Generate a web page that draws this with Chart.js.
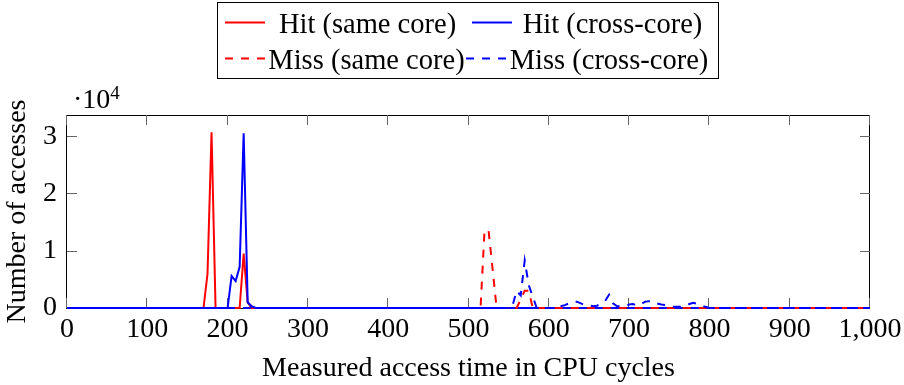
<!DOCTYPE html>
<html>
<head>
<meta charset="utf-8">
<script src="https://cdn.jsdelivr.net/npm/chart.js@4/dist/chart.umd.min.js"></script>
<style>
  html, body { margin: 0; padding: 0; background: #fff; }
  #wrap { position: relative; width: 904px; height: 385px; }
  #c { position: absolute; left: 0; top: 0; }
  #ov { position: absolute; left: 0; top: 0; pointer-events: none; }
  #ov text { font-family: "Liberation Serif", serif; fill: #000; }
</style>
</head>
<body>
<div id="wrap">
  <canvas id="c" width="904" height="385"></canvas>
  <svg id="ov" width="904" height="385">
    <rect x="217.5" y="2.5" width="501" height="76" fill="#fff" stroke="#000" stroke-width="1"/>
    <line x1="225" y1="22.5" x2="265" y2="22.5" stroke="#ff0000" stroke-width="2"/>
    <text x="367.5" y="33" font-size="28.5" text-anchor="middle">Hit (same core)</text>
    <line x1="472" y1="22.5" x2="512" y2="22.5" stroke="#0000ff" stroke-width="2"/>
    <text x="612.5" y="33" font-size="28.5" text-anchor="middle">Hit (cross-core)</text>
    <line x1="225" y1="58.5" x2="265" y2="58.5" stroke="#ff0000" stroke-width="2" stroke-dasharray="8 8"/>
    <text x="366.5" y="69" font-size="28.5" text-anchor="middle">Miss (same core)</text>
    <line x1="466" y1="58.5" x2="506" y2="58.5" stroke="#0000ff" stroke-width="2" stroke-dasharray="8 8"/>
    <text x="609" y="69" font-size="28.5" text-anchor="middle">Miss (cross-core)</text>
    <text x="73" y="108" font-size="28">·10<tspan dy="-9" font-size="19">4</tspan></text>
  </svg>
</div>
<script>
// ---- data ----
const hitSameX  = [0, 170, 175, 180, 185, 215, 220, 225, 230, 1000];
const hitSameY  = [0, 0, 6000, 30700, 0, 0, 9500, 1000, 0, 0];

const hitCrossX = [0, 200, 205, 210, 215, 220, 225, 230, 235, 1000];
const hitCrossY = [0, 0, 5600, 4700, 7200, 30500, 1000, 300, 0, 0];

const missSameX = [0, 515, 520, 525, 530, 535, 560, 565, 570, 575, 580, 935, 940, 945, 1000];
const missSameY = [0, 0, 13600, 13500, 6800, 0, 0, 1500, 3000, 3000, 0, 0, 300, 0, 0];

const missCrossX = [0, 550, 555, 560, 565, 570, 575, 580, 585, 610, 615, 620, 625, 630, 635, 640, 645, 650, 655, 660, 665, 670, 675, 680, 685, 690, 695, 700, 705, 710, 715, 720, 725, 730, 735, 740, 745, 750, 755, 760, 765, 770, 775, 780, 785, 790, 795, 800, 1000];
const missCrossY = [0, 0, 500, 3000, 2200, 8300, 4000, 2000, 0, 0, 300, 500, 800, 1100, 1100, 800, 500, 500, 300, 400, 700, 1200, 2300, 800, 300, 300, 300, 600, 700, 400, 700, 1100, 1200, 1200, 800, 600, 500, 300, 200, 200, 200, 300, 700, 900, 700, 300, 200, 0, 0];

const xTicks = [0, 100, 200, 300, 400, 500, 600, 700, 800, 900, 1000];
const xTickLabels = ['0', '100', '200', '300', '400', '500', '600', '700', '800', '900', '1,000'];
const yTicks = [0, 10000, 20000, 30000];
const yTickLabels = ['0', '1', '2', '3'];

const pts = (xs, ys) => xs.map((x, i) => ({ x: x, y: ys[i] }));

const FONT = { family: '"Liberation Serif", serif', size: 28 };

const framePlugin = {
  id: 'frame',
  beforeDatasetsDraw(chart) {
    const { ctx, chartArea: a, scales } = chart;
    const sx = scales.x, sy = scales.y;
    ctx.save();
    ctx.strokeStyle = '#000';
    ctx.lineWidth = 1;
    ctx.strokeRect(a.left - 0.5, a.top + 0.5, a.right - a.left, a.bottom - a.top);
    ctx.strokeStyle = '#666';
    const L = 10;
    ctx.beginPath();
    xTicks.forEach(v => {
      const px = Math.round(sx.getPixelForValue(v)) - 0.5;
      ctx.moveTo(px, a.bottom); ctx.lineTo(px, a.bottom - L);
      ctx.moveTo(px, a.top); ctx.lineTo(px, a.top + L);
    });
    yTicks.forEach(v => {
      const py = Math.round(sy.getPixelForValue(v)) + 0.5;
      ctx.moveTo(a.left, py); ctx.lineTo(a.left + L, py);
      ctx.moveTo(a.right, py); ctx.lineTo(a.right - L, py);
    });
    ctx.stroke();
    ctx.restore();
  }
};

const base = { fill: false, pointRadius: 0, borderWidth: 2, tension: 0, clip: false };

new Chart(document.getElementById('c'), {
  type: 'line',
  data: {
    datasets: [
      Object.assign({ label: 'Hit (same core)', data: pts(hitSameX, hitSameY), borderColor: '#ff0000', order: 4 }, base),
      Object.assign({ label: 'Hit (cross-core)', data: pts(hitCrossX, hitCrossY), borderColor: '#0000ff', order: 3 }, base),
      Object.assign({ label: 'Miss (same core)', data: pts(missSameX, missSameY), borderColor: '#ff0000', borderDash: [8, 8], order: 2 }, base),
      Object.assign({ label: 'Miss (cross-core)', data: pts(missCrossX, missCrossY), borderColor: '#0000ff', borderDash: [8, 8], order: 1 }, base)
    ]
  },
  options: {
    responsive: false,
    devicePixelRatio: 1,
    animation: false,
    events: [],
    layout: { padding: { top: 115, right: 34, left: 0, bottom: 0 } },
    plugins: { legend: { display: false }, tooltip: { enabled: false } },
    scales: {
      x: {
        type: 'linear', min: 0, max: 1000,
        afterFit: s => { s.height = 77; s.paddingLeft = 0; s.paddingRight = 0; },
        afterBuildTicks: s => { s.ticks = xTicks.map(v => ({ value: v })); },
        grid: { display: false, drawTicks: false },
        border: { display: false },
        ticks: {
          font: FONT, color: '#000', padding: 5, maxRotation: 0, autoSkip: false,
          callback: v => xTickLabels[xTicks.indexOf(v)]
        },
        title: { display: true, text: 'Measured access time in CPU cycles', font: { family: FONT.family, size: 28, lineHeight: 1 }, color: '#000', padding: { top: 0, bottom: 2 } }
      },
      y: {
        type: 'linear', min: 0, max: 33700,
        afterFit: s => { s.width = 67; s.paddingTop = 0; s.paddingBottom = 0; },
        afterBuildTicks: s => { s.ticks = yTicks.map(v => ({ value: v })); },
        grid: { display: false, drawTicks: false },
        border: { display: false },
        ticks: {
          font: FONT, color: '#000', padding: 10, autoSkip: false,
          callback: v => yTickLabels[yTicks.indexOf(v)]
        },
        title: { display: true, text: 'Number of accesses', font: FONT, color: '#000', padding: { top: 1, bottom: 0 } }
      }
    }
  },
  plugins: [framePlugin]
});
</script>
</body>
</html>
